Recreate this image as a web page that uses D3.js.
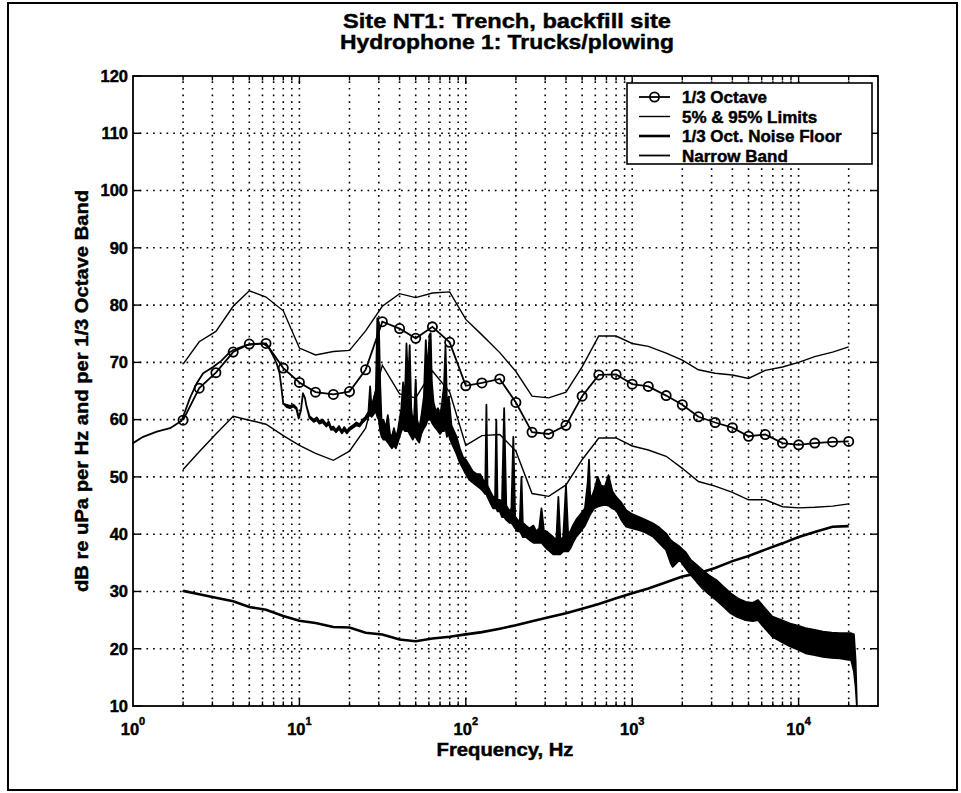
<!DOCTYPE html>
<html><head><meta charset="utf-8">
<script src="https://cdn.jsdelivr.net/npm/d3@7"></script>
<style>body{margin:0;background:#fff}</style>
</head><body>
<svg id="chart" width="961" height="793"></svg>
<script>
// ---------- data ----------
const thirdOctFreq = [2,2.5,3.15,4,5,6.3,8,10,12.5,16,20,25,31.5,40,50,63,80,100,125,160,200,250,315,400,500,630,800,1000,1250,1600,2000,2500,3150,4000,5000,6300,8000,10000,12500,16000,20000];
const thirdOctLevel = [59.9,65.5,68.2,71.8,73.2,73.3,69,66.5,64.8,64.4,64.9,68.7,77.1,75.9,74.2,76.2,73.5,65.9,66.4,67.1,63,57.8,57.5,59,64.1,67.8,67.9,66.2,65.8,64.2,62.6,60.5,59.5,58.6,57.1,57.4,55.9,55.6,55.9,56.1,56.2];
const limit95 = [69.7,73.6,75.4,79.8,82.5,81.4,79,72.5,71.3,71.9,72.1,75.5,79.8,82,81.3,82.1,82.3,77.5,74.8,71.7,68.4,64.1,63.8,64.8,69.2,74.6,74.6,73.3,72.8,71.6,70.4,68.7,68.1,67.8,67.2,68.6,69.2,70,71,71.8,72.7];
const limit5 = [51.3,54.4,57.5,60.6,59.9,59.2,57.2,55.5,54.1,52.9,54.5,58.5,69.5,64.5,63.8,68.5,64.8,55.5,57.2,57.4,54.5,47.1,46.6,48.6,53,56.8,56.8,55.4,54.7,53.6,51.5,49.2,48.4,47.3,46.0,46.0,44.8,44.6,44.7,44.9,45.3];
const noiseFloor = [30.1,29.5,28.9,28.3,27.3,26.8,25.7,24.9,24.5,23.8,23.7,22.8,22.5,21.6,21.3,21.8,22.1,22.5,22.9,23.5,24.1,24.8,25.5,26.2,27.0,27.8,28.8,29.7,30.5,31.6,32.6,33.2,34.1,35.3,36.2,37.3,38.4,39.5,40.4,41.3,41.4];

const nbFreq = [1.0,1.15,1.39,1.67,1.96,2.2,2.41,2.64,3.03,3.4,3.82,4.3,4.82,5.5,6.06,6.5,7.0,7.3,7.6,7.8,8.0,8.4,8.8,9.2,9.6,9.9,10.2,10.5,10.8,11.0,11.5,12.2,12.7,13.2,13.8,14.5,15.0,15.5,16.0,16.6,17.3,18.0,18.6,19.3,20.0,21.0,22.0,23.0,24.0,25.0,26.0,26.6,27.2,28.0,28.8,29.4,30.0,30.6,31.2,32.0,33.0,34.0,35.0,36.0,37.0,38.0,39.0,40.0,41.0,42.0,43.0,44.0,45.0,46.0,47.0,48.0,49.0,50.0,51.0,52.5,54.0,56.0,57.5,59.0,60.5,61.5,62.5,64.0,66.0,68.0,70.0,72.0,74.0,75.5,77.0,79.0,80.5,82.0,85.0,88.0,92.0,96.0,100,105,110,116,122,127,131,133,135,140,146,150,152.5,155,160,165,170,175,183,188,193,198,205,211,216,220,230,241,255,265,276,285,295,305,320,335,350,360,370,385,400,412,425,440,460,490,520,540,550,560,590,620,650,685,720,760,800,860,920,1000,1100,1200,1330,1450,1600,1700,1750,1850,1930,2100,2250,2450,2650,2900,3200,3550,3900,4300,4800,5300,5700,6300,6950,7900,8900,10000,11000,12500,14000,15800,17700,19500,20700,21500,22000,22400];
const nbLow = [55.9,57.0,57.9,58.5,59.8,63.8,66.3,68.1,69.2,70.3,71.8,72.5,73.0,73.2,73.3,72.7,71.0,69.8,68.1,65.5,62.8,62.2,62.0,62.3,61.8,60.2,61.5,64.6,63.8,62.5,60.3,59.6,59.9,59.3,59.5,58.8,59.2,58.2,58.3,57.8,58.4,57.6,58.2,57.6,58.2,58.6,59.0,58.8,59.5,60.0,60.6,60.8,60.5,61.0,61.5,60.5,60.0,58.0,57.0,56.5,56.5,56.0,55.5,55.0,55.5,55.0,56.0,57.0,58.0,58.5,58.0,58.0,58.0,57.5,57.0,56.5,57.0,57.0,56.5,56.0,57.5,58.5,59.0,60.0,60.0,60.0,59.5,59.0,58.5,58.0,57.5,58.0,58.0,58.5,57.0,57.5,56.5,56.0,55.0,54.0,52.5,51.5,50.5,49.5,49.0,48.5,48.0,47.5,47.0,47.0,46.5,45.5,44.5,44.5,44.5,44.0,44.0,43.0,43.0,42.5,42.0,42.0,41.5,41.0,40.5,40.5,40.0,39.5,39.5,39.0,38.5,38.5,38.5,38.5,38.0,37.5,37.0,36.5,36.5,36.5,36.5,37.0,37.0,37.0,37.5,38.5,39.5,40.5,41.5,42.5,43.0,43.5,44.5,44.8,45.0,45.1,45.0,44.5,44.2,42.5,41.3,41.0,40.7,40.3,39.6,38.5,37.2,35.0,34.3,35.0,35.5,34.0,32.9,31.6,30.5,29.5,28.5,27.3,26.2,25.5,25.0,24.8,25.0,23.5,22.1,21.2,20.4,19.8,19.2,18.9,18.6,18.4,18.3,18.1,18.0,16.0,13.4,10];
const nbHigh = [55.9,57.0,57.9,58.5,59.8,63.8,66.3,68.1,69.2,70.3,71.8,72.5,73.0,73.2,73.3,72.7,71.0,69.8,68.1,65.5,62.8,62.6,62.4,62.6,62.1,60.5,61.5,64.6,63.8,62.5,60.6,60.0,60.4,59.7,60.0,59.2,59.7,58.6,58.8,58.2,58.9,58.0,58.7,58.0,58.6,59.0,59.5,59.2,60.0,60.5,61.4,65.8,61.5,63.5,65.0,77.7,77.0,66.0,59.5,60.0,58.5,60.8,57.5,57.0,58.5,57.0,58.0,60.0,62.0,66.5,63.0,73.3,66.0,73.0,62.0,59.5,61.0,67.0,60.0,58.5,60.5,64.0,73.9,68.0,74.8,75.1,66.5,63.0,61.5,62.0,60.5,63.0,66.0,73.0,63.0,64.0,61.5,59.0,58.0,57.0,55.0,53.5,53.0,52.0,51.0,50.5,50.5,49.5,49.0,62.6,48.5,47.5,46.5,46.5,60.0,46.0,46.0,45.5,62.0,45.0,44.0,44.5,57.0,43.0,42.5,42.0,50.0,42.0,41.5,41.0,41.5,40.5,41.0,44.5,40.5,40.5,40.0,39.5,39.0,46.5,39.0,39.5,48.6,40.0,40.5,41.5,42.5,43.5,44.5,48.9,53.0,46.0,47.5,50.0,48.5,48.3,50.3,47.5,46.5,45.5,44.2,43.5,43.0,42.5,41.9,41.2,40.1,39.0,38.7,38.2,37.8,36.8,35.5,34.6,33.7,32.8,32.0,30.8,29.7,28.8,28.2,28.0,28.5,27.0,25.6,25.0,24.4,24.0,23.6,23.3,23.0,22.8,22.7,22.7,22.7,22.5,18.0,10];

const yTicks = [10,20,30,40,50,60,70,80,90,100,110,120];
const xDecadeExps = [0,1,2,3,4];
const titleLines = ["Site NT1: Trench, backfill site", "Hydrophone 1: Trucks/plowing"];
const xLabel = "Frequency, Hz";
const yLabel = "dB re uPa per Hz and per 1/3 Octave Band";
const legendLabels = ["1/3 Octave", "5% & 95% Limits", "1/3 Oct. Noise Floor", "Narrow Band"];

// ---------- layout ----------
const svg = d3.select('#chart');
const font = "'Liberation Sans', Arial, Helvetica, sans-serif";
const L = 133, T = 76, R = 878, B = 706;
const x = d3.scaleLog().domain([1, 30000]).range([L, R]);
const y = d3.scaleLinear().domain([10, 120]).range([B, T]);

svg.append('rect').attr('x',0).attr('y',0).attr('width',961).attr('height',793).attr('fill','#fff');
// outer frame
svg.append('rect').attr('x',8).attr('y',3).attr('width',949).attr('height',787)
  .attr('fill','none').attr('stroke','#000').attr('stroke-width',2);

// grid positions from scale
const minorFreqs = [];
xDecadeExps.forEach(k => { for (let j = 1; j <= 9; j++) { const f = j * Math.pow(10, k); if (f > 1 && f < 30000) minorFreqs.push(f); } });
const majorFreqs = xDecadeExps.map(k => Math.pow(10, k));

const grid = svg.append('g').attr('stroke','#000').attr('stroke-width',1.6).attr('stroke-dasharray','1.7,5');
grid.selectAll('line.v').data(minorFreqs).join('line')
  .attr('x1', d => x(d)).attr('x2', d => x(d)).attr('y1', B).attr('y2', T);
grid.selectAll('line.h').data(yTicks.filter(v => v > 10 && v < 120)).join('line')
  .attr('x1', L).attr('x2', R).attr('y1', d => y(d)).attr('y2', d => y(d));

// series
const lineGen = (vals) => d3.line().x((d,i) => x(thirdOctFreq[i])).y((d) => y(d))(vals);

// narrow band (area between low & high envelopes)
const nbData = nbFreq.map((f,i) => ({f, lo: nbLow[i], hi: nbHigh[i]}));
svg.append('path')
  .attr('d', d3.area().x(d => x(d.f)).y0(d => y(d.lo)).y1(d => y(d.hi))(nbData))
  .attr('fill','#000').attr('stroke','#000').attr('stroke-width',1.8).attr('stroke-linejoin','round');

svg.append('path').attr('d', lineGen(noiseFloor)).attr('fill','none').attr('stroke','#000').attr('stroke-width',2.6);
svg.append('path').attr('d', lineGen(limit95)).attr('fill','none').attr('stroke','#000').attr('stroke-width',1.4);
svg.append('path').attr('d', lineGen(limit5)).attr('fill','none').attr('stroke','#000').attr('stroke-width',1.4);
svg.append('path').attr('d', lineGen(thirdOctLevel)).attr('fill','none').attr('stroke','#000').attr('stroke-width',1.8);
svg.append('g').selectAll('circle').data(thirdOctLevel).join('circle')
  .attr('cx',(d,i) => x(thirdOctFreq[i])).attr('cy', d => y(d)).attr('r',4.6)
  .attr('fill','none').attr('stroke','#000').attr('stroke-width',1.8);

// axes box
svg.append('rect').attr('x',L).attr('y',T).attr('width',R-L).attr('height',B-T)
  .attr('fill','none').attr('stroke','#000').attr('stroke-width',1.8);

// ticks
const tk = svg.append('g').attr('stroke','#000').attr('stroke-width',1.4);
minorFreqs.forEach(f => {
  const isMajor = majorFreqs.includes(f);
  const len = isMajor ? 8 : 4.5;
  tk.append('line').attr('x1',x(f)).attr('x2',x(f)).attr('y1',B).attr('y2',B-len);
  tk.append('line').attr('x1',x(f)).attr('x2',x(f)).attr('y1',T).attr('y2',T+len);
});
yTicks.forEach(v => {
  tk.append('line').attr('x1',L).attr('x2',L+8).attr('y1',y(v)).attr('y2',y(v));
  tk.append('line').attr('x1',R).attr('x2',R-8).attr('y1',y(v)).attr('y2',y(v));
});

const heavy = sel => sel.attr('font-family', font).attr('font-weight','bold')
  .attr('fill','#000').attr('stroke','#000').attr('stroke-width',0.45);

// y tick labels
heavy(svg.append('g').selectAll('text').data(yTicks).join('text')
  .attr('x', L - 5).attr('y', d => y(d) + 5.8).attr('text-anchor','end')
  .attr('font-size',16.5).text(d => d));

// x tick labels 10^k
const xl = heavy(svg.append('g').selectAll('text').data(xDecadeExps).join('text')
  .attr('x', d => x(Math.pow(10,d)) ).attr('y', 735).attr('text-anchor','middle')
  .attr('font-size',16.5));
xl.append('tspan').text('10');
xl.append('tspan').attr('dy',-10).attr('font-size',11).text(d => d);

// titles
titleLines.forEach((t,i) => {
  heavy(svg.append('text').attr('x', 507).attr('y', 28 + i*21).attr('text-anchor','middle')
    .attr('font-size',21)
    .attr('textLength', i === 0 ? 328 : 334).attr('lengthAdjust','spacingAndGlyphs')
    .text(t));
});
// x label
heavy(svg.append('text').attr('x', 505).attr('y', 756).attr('text-anchor','middle')
  .attr('font-size',18)
  .attr('textLength',137).attr('lengthAdjust','spacingAndGlyphs').text(xLabel));
// y label
heavy(svg.append('text').attr('transform','translate(88,391) rotate(-90)').attr('text-anchor','middle')
  .attr('font-size',18.5)
  .attr('textLength',402).attr('lengthAdjust','spacingAndGlyphs').text(yLabel));

// legend
const lg = svg.append('g');
lg.append('rect').attr('x',627).attr('y',83).attr('width',245).attr('height',81)
  .attr('fill','#fff').attr('stroke','#000').attr('stroke-width',1.6);
const lgWidths = [1.8, 1.4, 2.6, 1.8];
legendLabels.forEach((lab,i) => {
  const cy = 97 + i*19.5;
  lg.append('line').attr('x1',639).attr('x2',670).attr('y1',cy).attr('y2',cy)
    .attr('stroke','#000').attr('stroke-width',lgWidths[i]);
  if (i === 0) lg.append('circle').attr('cx',654.5).attr('cy',cy).attr('r',4.6)
    .attr('fill','none').attr('stroke','#000').attr('stroke-width',1.8);
  heavy(lg.append('text').attr('x',682).attr('y',cy+6).attr('font-size',17).text(lab));
});
</script>
</body></html>
